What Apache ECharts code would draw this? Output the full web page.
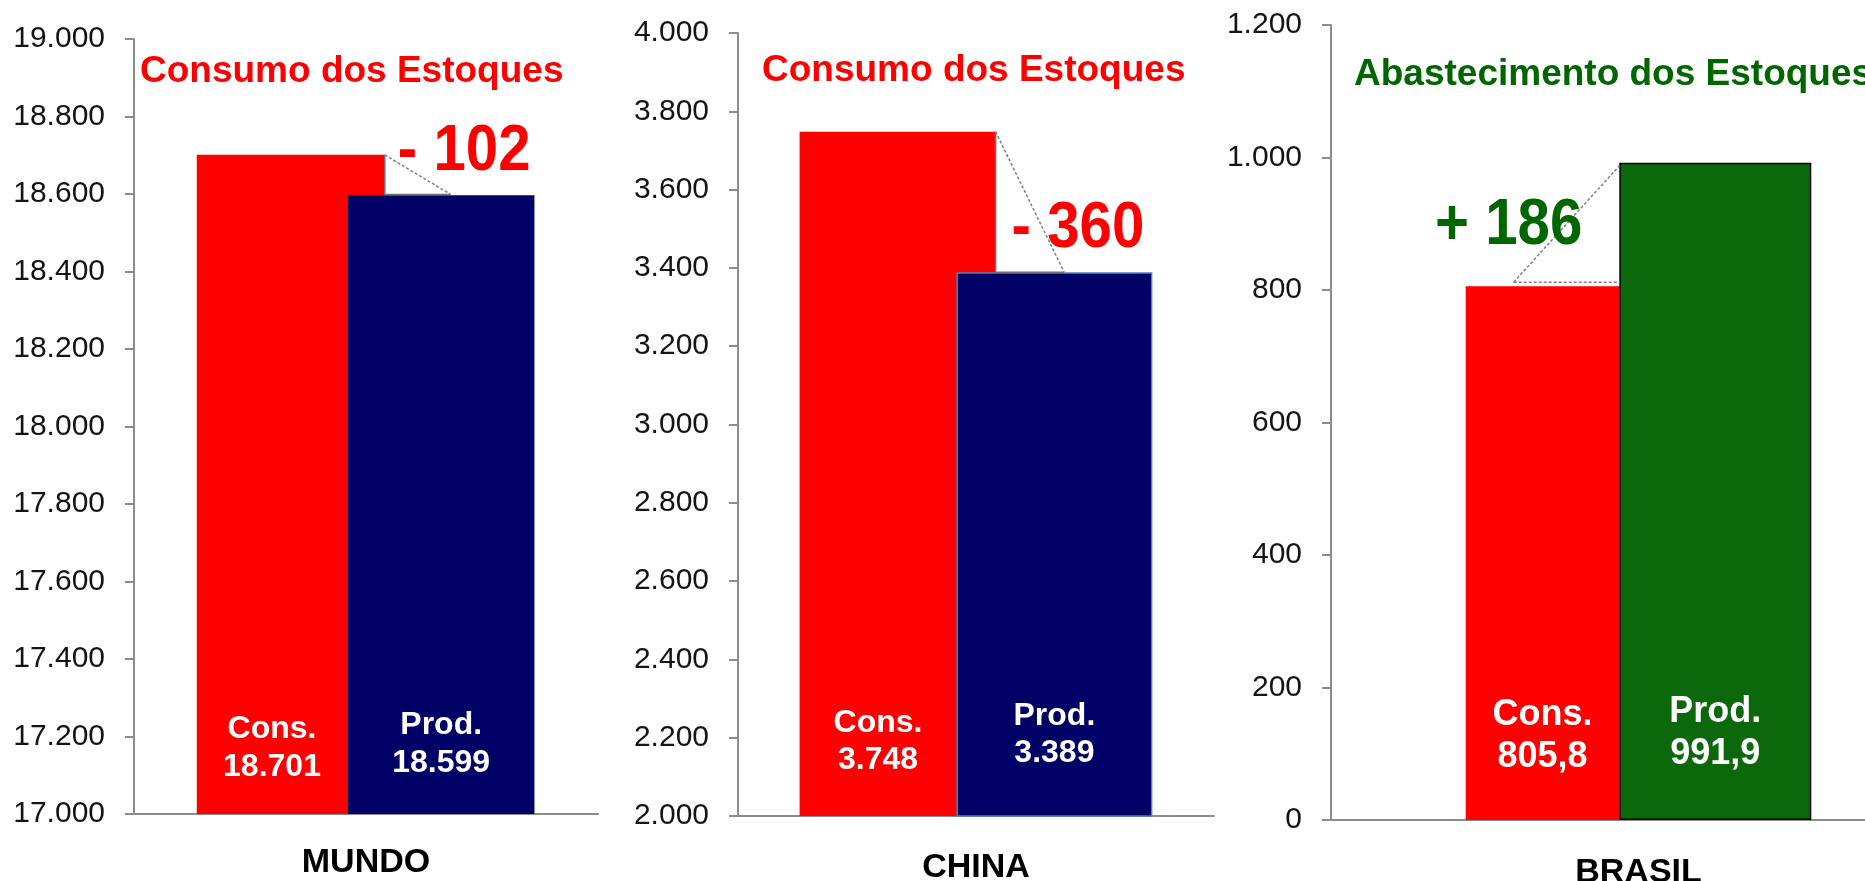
<!DOCTYPE html>
<html>
<head>
<meta charset="utf-8">
<title>Estoques</title>
<script src="https://cdn.jsdelivr.net/npm/echarts@6/dist/echarts.min.js"></script>
<style>
  html, body { margin: 0; padding: 0; background: #fff; }
  #main { width: 1865px; height: 881px; }
</style>
</head>
<body>
<div id="main"></div>
<script>
// dados (mil toneladas)
const regions = ['MUNDO', 'CHINA', 'BRASIL'];
const consumo = [18701, 3748, 805.8];
const producao = [18599, 3389, 991.9];
const saldoLabels = ['- 102', '- 360', '+ 186'];
const titles = ['Consumo dos Estoques', 'Consumo dos Estoques', 'Abastecimento dos Estoques'];
const yMin = [17000, 2000, 0];
const yMax = [19000, 4000, 1200];
const yStep = [200, 200, 200];

const FONT = "'Liberation Sans', Arial, sans-serif";
const RED = '#ff0000';
const DKGREEN = '#006600';

// layout de cada painel
const panels = [
  { left: 134, top: 39, width: 464, height: 775, barWidth: 188, prodColor: '#000066', prodBorder: 'transparent',
    labelSize: 32, lineHeight: 38, dist: [28, 33], titleX: 140, titleY: 72, titleColor: RED, catMargin: 32,
    noteColor: RED, noteRef: 'cons', noteDx: 13, noteDy: -3, noteAlign: 'left' },
  { left: 738, top: 33, width: 476, height: 783, barWidth: 196, prodColor: '#000066', prodBorder: '#4f81bd',
    labelSize: 32, lineHeight: 37, dist: [37, 45], titleX: 762, titleY: 71, titleColor: RED, catMargin: 35,
    noteColor: RED, noteRef: 'prod', noteDx: 16, noteDy: -43, noteAlign: 'left' },
  { left: 1331, top: 25, width: 615, height: 795, barWidth: 192, prodColor: '#0b690b', prodBorder: '#000000',
    labelSize: 36, lineHeight: 42, dist: [42, 45], titleX: 1354, titleY: 75, titleColor: DKGREEN, catMargin: 36,
    noteColor: DKGREEN, noteRef: 'prod', noteDx: -37, noteDy: 63, noteAlign: 'right' }
];

// 18701 -> 18.701 ; 805.8 -> 805,8
function fmt(v) {
  const parts = String(v).split('.');
  const intPart = parts[0].replace(/\B(?=(\d{3})+(?!\d))/g, '.');
  return parts.length > 1 ? intPart + ',' + parts[1] : intPart;
}

const chart = echarts.init(document.getElementById('main'));

const option = {
  animation: false,
  grid: panels.map(p => ({ left: p.left, top: p.top, width: p.width, height: p.height, outerBoundsMode: 'none' })),
  xAxis: panels.map((p, i) => ({
    type: 'category',
    gridIndex: i,
    data: [regions[i]],
    axisLine: { lineStyle: { color: '#8c8c8c', width: 2 } },
    axisTick: { show: false },
    axisLabel: { color: '#000', fontSize: 34, fontWeight: 'bold', fontFamily: FONT, margin: p.catMargin, lineHeight: 34 }
  })),
  yAxis: panels.map((p, i) => ({
    type: 'value',
    gridIndex: i,
    min: yMin[i],
    max: yMax[i],
    interval: yStep[i],
    splitLine: { show: false },
    axisLine: { show: true, lineStyle: { color: '#8c8c8c', width: 2 } },
    axisTick: { show: true, length: 9, lineStyle: { color: '#8c8c8c', width: 2 } },
    axisLabel: { color: '#141414', fontSize: 30, fontFamily: FONT, margin: 29, formatter: v => fmt(v) }
  })),
  series: []
};

panels.forEach((p, i) => {
  const lbl = (dist, dx) => ({
    show: true,
    position: 'insideBottom',
    distance: dist,
    offset: [dx, 0],
    color: '#fff',
    fontWeight: 'bold',
    fontSize: p.labelSize,
    lineHeight: p.lineHeight,
    fontFamily: FONT,
    formatter: prm => prm.seriesName + '\n' + fmt(prm.value)
  });
  option.series.push({
    type: 'bar', name: 'Cons.', xAxisIndex: i, yAxisIndex: i,
    barWidth: p.barWidth, barGap: '-20%',
    data: [consumo[i]],
    itemStyle: { color: RED },
    label: lbl(p.dist[0], -0.1 * p.barWidth)
  });
  option.series.push({
    type: 'bar', name: 'Prod.', xAxisIndex: i, yAxisIndex: i,
    barWidth: p.barWidth, barGap: '-20%',
    data: [producao[i]],
    itemStyle: { color: p.prodColor, borderColor: p.prodBorder, borderWidth: 1.5 },
    label: lbl(p.dist[1], 0)
  });
});

chart.setOption(option);

// triangulos de ligacao e textos de saldo
function seg(x1, y1, x2, y2, dashed) {
  return {
    type: 'line', z: 10,
    shape: { x1, y1, x2, y2 },
    style: { stroke: dashed ? '#808080' : '#707070', lineWidth: 1.5, lineDash: dashed ? [3, 2] : null }
  };
}

const elements = [];
panels.forEach((p, i) => {
  const [cx, yc] = chart.convertToPixel({ gridIndex: i }, [regions[i], consumo[i]]);
  const yp = chart.convertToPixel({ gridIndex: i }, [regions[i], producao[i]])[1];
  const w = p.barWidth;
  const consRight = cx + 0.1 * w;
  const prodLeft = cx - 0.1 * w;
  if (consumo[i] > producao[i]) {
    const dx = 0.35 * w;
    elements.push(seg(consRight, yc, consRight, yp, false));
    elements.push(seg(consRight, yp, consRight + dx, yp, false));
    elements.push(seg(consRight, yc, consRight + dx, yp, true));
  } else {
    const dx = 0.55 * w;
    elements.push(seg(prodLeft - dx, yc - 4, prodLeft, yc - 4, true));
    elements.push(seg(prodLeft - dx, yc - 4, prodLeft, yp + 3, true));
  }
  const refX = p.noteAlign === 'left' ? consRight : prodLeft;
  const refY = p.noteRef === 'cons' ? yc : yp;
  // numeros do saldo: fonte alta e estreita como no original
  elements.push({
    type: 'text', z: 11,
    x: refX + p.noteDx, y: refY + p.noteDy,
    scaleX: 0.91,
    style: { text: saldoLabels[i], fill: p.noteColor, fontSize: 64, fontWeight: 'bold', fontFamily: FONT,
             align: p.noteAlign, verticalAlign: 'middle' }
  });
  elements.push({
    type: 'text', z: 11,
    x: p.titleX, y: p.titleY,
    style: { text: titles[i], fill: p.titleColor, fontSize: 37, fontWeight: 'bold', fontFamily: FONT,
             align: 'left', verticalAlign: 'middle' }
  });
});

chart.setOption({ graphic: elements });
</script>
</body>
</html>
